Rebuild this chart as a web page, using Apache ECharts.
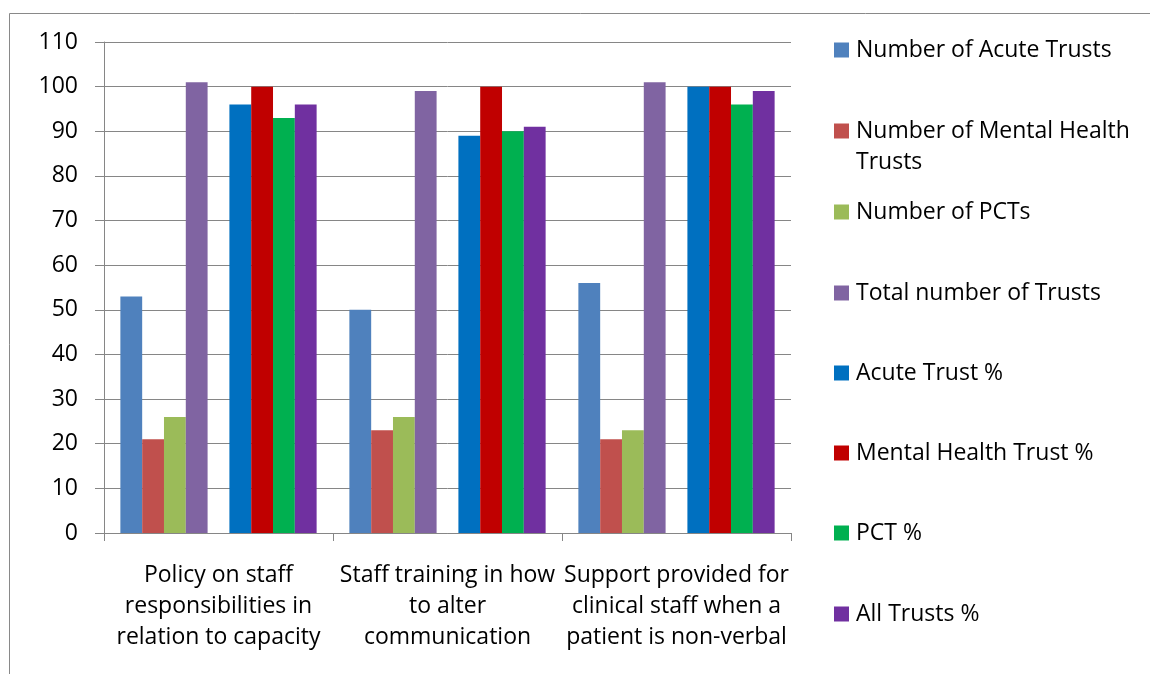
<!DOCTYPE html>
<html>
<head>
<meta charset="utf-8">
<script src="https://cdn.jsdelivr.net/npm/echarts@6/dist/echarts.min.js"></script>
<style>
  html, body { margin: 0; padding: 0; background: #fff; }
  #chart { width: 1150px; height: 674px; }
</style>
</head>
<body>
<div id="chart"></div>
<script>
const categories = [
  'Policy on staff\nresponsibilities in\nrelation to capacity',
  'Staff training in how\nto alter\ncommunication',
  'Support provided for\nclinical staff when a\npatient is non-verbal'
];
const seriesNames = [
  'Number of Acute Trusts',
  'Number of Mental Health Trusts',
  'Number of PCTs',
  'Total number of Trusts',
  'Acute Trust %',
  'Mental Health Trust %',
  'PCT %',
  'All Trusts %'
];
const acuteTrusts = [53, 50, 56];
const mentalHealthTrusts = [21, 23, 21];
const pcts = [26, 26, 23];
const totalTrusts = [101, 99, 101];
const acutePct = [96, 89, 100];
const mentalHealthPct = [100, 100, 100];
const pctPct = [93, 90, 96];
const allTrustsPct = [96, 91, 99];
const yTicks = [0, 10, 20, 30, 40, 50, 60, 70, 80, 90, 100, 110];

const colors = ['#4F81BD', '#C0504D', '#9BBB59', '#8064A2', '#0070C0', '#C00000', '#00B050', '#7030A0'];
const values = [acuteTrusts, mentalHealthTrusts, pcts, totalTrusts, acutePct, mentalHealthPct, pctPct, allTrustsPct];

const FONT = 'Open Sans';
const FS = 23;
const series = [];
values.forEach((v, i) => {
  if (i === 4) {
    // empty slot between the count series and the percentage series
    series.push({ name: '', type: 'bar', data: [null, null, null], barGap: '0%', barCategoryGap: '14.3%', silent: true });
  }
  series.push({
    name: seriesNames[i],
    type: 'bar',
    data: v,
    barGap: '0%',
    barCategoryGap: '14.3%',
    itemStyle: { color: colors[i] }
  });
});

const legendCenters = [50, 131, 212, 293, 373, 453, 533, 614];
const LH = 31;
const legends = seriesNames.map((n, i) => {
  const two = i === 1;
  return {
    data: [n],
    orient: 'vertical',
    left: 834,
    top: two ? legendCenters[i] - 1.5 * LH : legendCenters[i] - LH / 2,
    padding: 0,
    itemWidth: 15,
    itemHeight: 15,
    itemGap: 0,
    icon: 'rect',
    selectedMode: false,
    formatter: two ? ' \nNumber of Mental Health\nTrusts' : '{name}',
    textStyle: {
      fontFamily: FONT,
      fontSize: FS,
      color: '#000',
      lineHeight: LH,
      padding: [0, 0, 0, 2]
    }
  };
});

const chart = echarts.init(document.getElementById('chart'), null, { renderer: 'canvas' });
chart.setOption({
  animation: false,
  backgroundColor: '#fff',
  textStyle: { fontFamily: FONT },
  color: colors,
  graphic: [{
    type: 'rect',
    shape: { x: 9.5, y: 13.5, width: 1300, height: 800 },
    style: { fill: null, stroke: '#898989', lineWidth: 1 },
    silent: true
  }],
  grid: { left: 104, right: 359, top: 42, bottom: 141, containLabel: false },
  legend: legends,
  xAxis: {
    type: 'category',
    data: categories,
    boundaryGap: true,
    axisLine: { lineStyle: { color: '#868686', width: 1 } },
    axisTick: { show: true, inside: false, length: 8, alignWithLabel: false, lineStyle: { color: '#868686' } },
    axisLabel: {
      interval: 0,
      margin: 27,
      fontFamily: FONT,
      fontSize: FS,
      lineHeight: 31,
      color: '#000',
      align: 'center'
    },
    splitLine: { show: false }
  },
  yAxis: {
    type: 'value',
    min: 0,
    max: 110,
    interval: 10,
    axisLine: { show: true, lineStyle: { color: '#868686', width: 1 } },
    axisTick: { show: true, inside: false, length: 9, lineStyle: { color: '#868686' } },
    axisLabel: {
      margin: 26,
      fontFamily: FONT,
      fontSize: FS,
      color: '#000',
      formatter: v => yTicks.includes(v) ? String(v) : ''
    },
    splitLine: { show: true, lineStyle: { color: '#868686', width: 1 } }
  },
  series: series
});
</script>
</body>
</html>
